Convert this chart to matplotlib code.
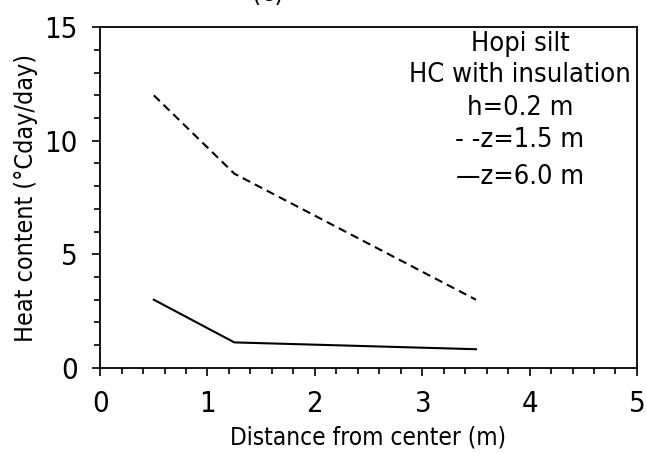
import matplotlib
matplotlib.use("Agg")
import matplotlib.pyplot as plt
from matplotlib.ticker import MultipleLocator

# Data
distance = [0.5, 1.25, 3.5]
hc_z15 = [12.0, 8.55, 3.0]
hc_z60 = [3.0, 1.12, 0.82]

# annotation block (text, y in data units)
note_lines = ["Hopi silt", "HC with insulation", "h=0.2 m", "- -z=1.5 m", "—z=6.0 m"]
note_y = [14.25, 12.89, 11.44, 10.03, 8.40]

plt.rcParams['font.family'] = ['DejaVu Sans']
plt.rcParams['font.stretch'] = 'condensed'

fig = plt.figure(figsize=(6.46, 4.53), dpi=100)
ax = fig.add_axes([0.155, 0.188, 0.831, 0.752])

ax.plot(distance, hc_z15, color='black', linestyle=(0, (4, 2.5)), linewidth=1.5)
ax.plot(distance, hc_z60, color='black', linestyle='-', linewidth=1.5)

ax.set_xlim(0, 5)
ax.set_ylim(0, 15)
ax.xaxis.set_major_locator(MultipleLocator(1))
ax.xaxis.set_minor_locator(MultipleLocator(0.2))
ax.yaxis.set_major_locator(MultipleLocator(5))
ax.yaxis.set_minor_locator(MultipleLocator(1))
ax.tick_params(which='both', direction='out', width=1.2, labelsize=21)
ax.tick_params(which='major', length=6, pad=10)
ax.tick_params(which='minor', length=4)
for s in ax.spines.values():
    s.set_linewidth(1.3)

ax.set_xlabel("Distance from center (m)", fontsize=17.5, labelpad=5)
ax.set_ylabel("Heat content (°Cday/day)", fontsize=18, labelpad=5)

for t, y in zip(note_lines, note_y):
    ax.text(3.91, y, t, fontsize=19.5, ha='center', va='center')

fig.text(0.415, 1.013, "(c)", fontsize=19, ha='center', va='center')

fig.savefig("out.png", dpi=100)
